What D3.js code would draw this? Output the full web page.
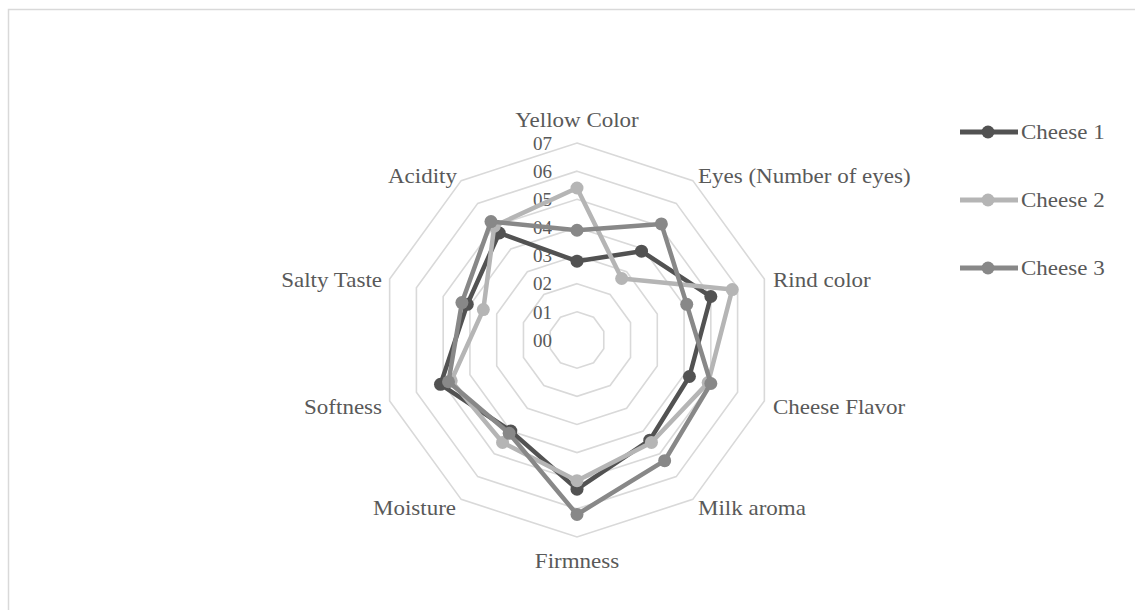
<!DOCTYPE html>
<html>
<head>
<meta charset="utf-8">
<script src="https://cdn.jsdelivr.net/npm/d3@7"></script>
<style>
  body { margin: 0; background: #fff; }
  svg text { font-family: "Liberation Serif", "Times New Roman", serif; fill: #595959; }
</style>
</head>
<body>
<div id="chart"></div>
<script>
const width = 1135, height = 610;
const cx = 577, cy = 340, radius = 197;

const attributes = ["Yellow Color", "Eyes (Number of eyes)", "Rind color", "Cheese Flavor", "Milk aroma",
                    "Firmness", "Moisture", "Softness", "Salty Taste", "Acidity"];
const cheese1 = [2.8, 3.9, 5.0, 4.2, 4.4, 5.3, 4.0, 5.1, 4.1, 4.7];
const cheese2 = [5.4, 2.7, 5.8, 4.9, 4.5, 5.0, 4.5, 4.7, 3.5, 5.0];
const cheese3 = [3.9, 5.1, 4.1, 5.0, 5.3, 6.2, 4.1, 4.8, 4.3, 5.2];
const seriesNames = ["Cheese 1", "Cheese 2", "Cheese 3"];
const tickLabels = ["00", "01", "02", "03", "04", "05", "06", "07"];

const series = [
  { name: seriesNames[0], values: cheese1, color: "#525252" },
  { name: seriesNames[1], values: cheese2, color: "#b5b5b5" },
  { name: seriesNames[2], values: cheese3, color: "#888888" }
];

// label anchors, hand placed like the original
const labelPos = [
  { x: 577, y: 127, anchor: "middle" },
  { x: 698, y: 183, anchor: "start" },
  { x: 773, y: 287, anchor: "start" },
  { x: 773, y: 414, anchor: "start" },
  { x: 698, y: 515, anchor: "start" },
  { x: 577, y: 568, anchor: "middle" },
  { x: 456, y: 515, anchor: "end" },
  { x: 382, y: 414, anchor: "end" },
  { x: 382, y: 287, anchor: "end" },
  { x: 457, y: 183, anchor: "end" }
];

const svg = d3.select("#chart").append("svg")
  .attr("width", width)
  .attr("height", height);

// outer frame
svg.append("rect")
  .attr("x", 8.5).attr("y", 9.5)
  .attr("width", width + 20).attr("height", height + 20)
  .attr("fill", "none")
  .attr("stroke", "#d9d9d9")
  .attr("stroke-width", 1.5);

const r = d3.scaleLinear().domain([0, 7]).range([0, radius]);
const angle = i => i * 2 * Math.PI / attributes.length;
const pt = (i, v) => [cx + r(v) * Math.sin(angle(i)), cy - r(v) * Math.cos(angle(i))];

const g = svg.append("g");

// grid rings
d3.range(1, 8).forEach(level => {
  g.append("path")
    .attr("d", d3.line()(attributes.map((a, i) => pt(i, level))) + "Z")
    .attr("fill", "none")
    .attr("stroke", "#d9d9d9")
    .attr("stroke-width", 1.6);
});

// tick labels
tickLabels.forEach((t, i) => {
  g.append("text")
    .attr("x", cx - 25)
    .attr("y", cy - r(i))
    .attr("dy", "0.35em")
    .attr("text-anchor", "end")
    .style("font-size", "19px")
    .text(t);
});

// series lines + markers
const line = d3.line().x(d => d[0]).y(d => d[1]);
series.forEach(s => {
  const pts = s.values.map((v, i) => pt(i, v));
  g.append("path")
    .attr("d", line(pts) + "Z")
    .attr("fill", "none")
    .attr("stroke", s.color)
    .attr("stroke-width", 4.5)
    .attr("stroke-linejoin", "round");
  g.selectAll(null).data(pts).enter().append("circle")
    .attr("cx", d => d[0]).attr("cy", d => d[1])
    .attr("r", 6.5)
    .attr("fill", s.color);
});

// axis labels
attributes.forEach((a, i) => {
  const p = labelPos[i];
  svg.append("text")
    .attr("transform", `translate(${p.x},${p.y}) scale(1.15,1)`)
    .attr("text-anchor", p.anchor)
    .style("font-size", "20px")
    .text(a);
});

// legend
const legend = svg.append("g");
series.forEach((s, i) => {
  const y = 132 + i * 68;
  legend.append("line")
    .attr("x1", 960).attr("x2", 1018)
    .attr("y1", y).attr("y2", y)
    .attr("stroke", s.color)
    .attr("stroke-width", 5);
  legend.append("circle")
    .attr("cx", 988).attr("cy", y).attr("r", 6.5)
    .attr("fill", s.color);
  legend.append("text")
    .attr("transform", `translate(1021,${y + 7}) scale(1.15,1)`)
    .style("font-size", "20px")
    .text(s.name);
});
</script>
</body>
</html>
